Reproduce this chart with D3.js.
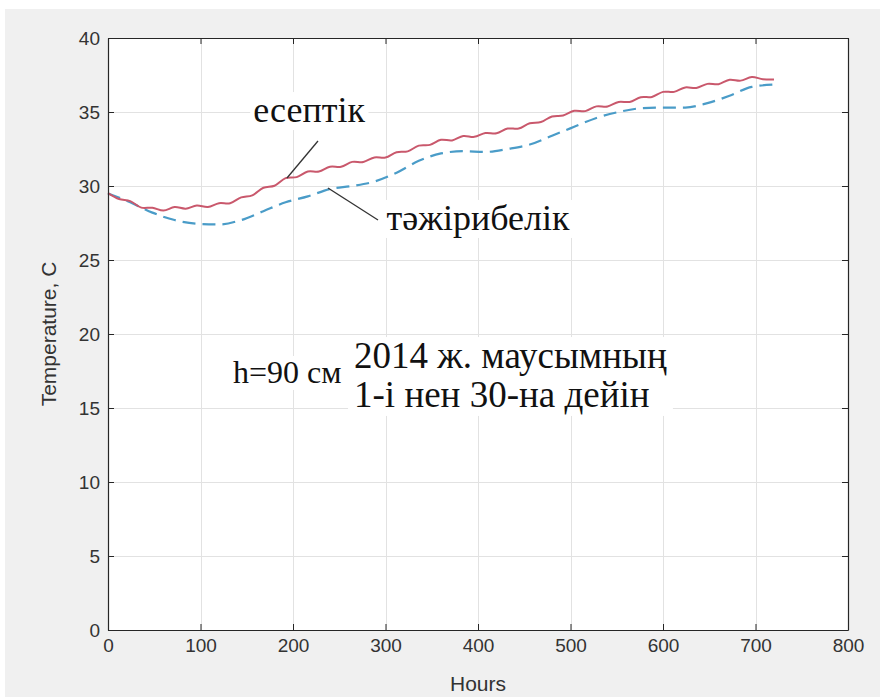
<!DOCTYPE html>
<html><head><meta charset="utf-8">
<script src="https://cdn.jsdelivr.net/npm/d3@7/dist/d3.min.js"></script>
<style>body{margin:0;background:#fff}</style>
</head><body>
<svg id="chart" width="885" height="700"></svg>
<script>
// ---- data ----
const calcHours = [0,12,24,36,48,60,72,84,96,108,120,132,144,156,168,180,192,204,216,228,240,252,264,276,288,300,312,324,336,348,360,372,384,396,408,420,432,444,456,468,480,492,504,516,528,540,552,564,576,588,600,612,624,636,648,660,672,684,696,708,720];
const calcTemp = [29.52,29.12,28.98,28.54,28.53,28.34,28.58,28.47,28.68,28.58,28.84,28.84,29.23,29.37,29.88,30.02,30.53,30.60,30.98,30.98,31.30,31.30,31.63,31.62,31.93,31.92,32.28,32.34,32.73,32.78,33.12,33.08,33.38,33.32,33.58,33.56,33.88,33.88,34.24,34.32,34.70,34.76,35.08,35.06,35.38,35.37,35.68,35.68,36.00,36.02,36.36,36.36,36.66,36.62,36.90,36.88,37.18,37.12,37.36,37.22,37.20];
const expHours = [0,24,48,72,96,120,144,168,192,216,240,264,288,312,336,360,384,408,432,456,480,504,528,552,576,600,624,648,672,696,720];
const expTemp = [29.5,28.9,28.2,27.7,27.45,27.4,27.7,28.3,28.9,29.3,29.8,30.0,30.3,30.9,31.7,32.2,32.35,32.3,32.5,32.8,33.4,34.0,34.6,35.0,35.25,35.3,35.3,35.6,36.1,36.7,36.85];
const xTicks = [0,100,200,300,400,500,600,700,800];
const yTicks = [0,5,10,15,20,25,30,35,40];
const xLabel = "Hours";
const yLabel = "Temperature, C";
const calcName = "есептік";
const expName = "тәжірибелік";
const heightNote = "h=90 см";
const periodLines = ["2014 ж. маусымның", "1-і нен 30-на дейін"];

// annotation anchors in data units [hours, temperature]
const calcLabelAt = [157, 34.32];
const calcLeader = [[193.5, 30.54],[227, 33.04]];
const expLabelAt = [301, 27.03];
const expLeader = [[237.8, 29.86],[291.9, 27.70]];
const heightAt = [135.1, 16.69];
const periodAt = [[266, 17.70],[266, 15.07]];

// ---- layout ----
const svg = d3.select("#chart");
const W = 885, H = 700;
const m = {left:108, top:38, right:37, bottom:70};
const pw = W - m.left - m.right, ph = H - m.top - m.bottom;

svg.append("rect").attr("x",5).attr("y",9).attr("width",875).attr("height",688).attr("fill","#f0f0f0");

const x = d3.scaleLinear().domain([0,800]).range([m.left, m.left+pw]);
const y = d3.scaleLinear().domain([0,40]).range([m.top+ph, m.top]);

svg.append("rect").attr("x",m.left).attr("y",m.top).attr("width",pw).attr("height",ph).attr("fill","#fff");

// grid
const grid = svg.append("g").attr("stroke","#e2e2e2").attr("stroke-width",1);
grid.selectAll("line.gx").data(xTicks.slice(1,-1)).join("line")
  .attr("x1",d=>Math.round(x(d))+0.5).attr("x2",d=>Math.round(x(d))+0.5)
  .attr("y1",m.top).attr("y2",m.top+ph);
grid.selectAll("line.gy").data(yTicks.slice(1,-1)).join("line")
  .attr("y1",d=>Math.round(y(d))+0.5).attr("y2",d=>Math.round(y(d))+0.5)
  .attr("x1",m.left).attr("x2",m.left+pw);

// lines
const calcData = calcHours.map((h,i)=>[h,calcTemp[i]]);
const expData = expHours.map((h,i)=>[h,expTemp[i]]);
const lineCalc = d3.line().x(d=>x(d[0])).y(d=>y(d[1])).curve(d3.curveCatmullRom);
const lineExp = d3.line().x(d=>x(d[0])).y(d=>y(d[1])).curve(d3.curveMonotoneX);

svg.append("path").datum(expData).attr("d",lineExp).attr("fill","none")
  .attr("stroke","#4a9cc8").attr("stroke-width",2.2).attr("stroke-dasharray","13,7");
svg.append("path").datum(calcData).attr("d",lineCalc).attr("fill","none")
  .attr("stroke","#c9586c").attr("stroke-width",2);

// leaders
const leader = d3.line().x(d=>x(d[0])).y(d=>y(d[1]));
[calcLeader, expLeader].forEach(L=>{
  svg.append("path").attr("d",leader(L)).attr("stroke","#333").attr("stroke-width",1.3).attr("fill","none");
});

// annotations with white boxes
const serif = "'Liberation Serif','Times New Roman',serif";
function note(txt, at, size, pad){
  const g = svg.append("g");
  const r = g.append("rect").attr("fill","#fff");
  const t = g.append("text").attr("x",x(at[0])).attr("y",y(at[1]))
    .attr("font-family",serif).attr("font-size",size).attr("fill","#111").text(txt);
  const b = t.node().getBBox();
  r.attr("x",b.x-pad).attr("y",b.y+2).attr("width",b.width+2*pad).attr("height",b.height-2);
  return g;
}
note(calcName, calcLabelAt, 36, 3);
note(expName, expLabelAt, 36, 3);
note(heightNote, heightAt, 32, 3);
// period box (two lines)
{
  const g = svg.append("g");
  const r = g.append("rect").attr("fill","#fff");
  const ts = periodLines.map((s,i)=>g.append("text").attr("x",x(periodAt[i][0])).attr("y",y(periodAt[i][1]))
    .attr("font-family",serif).attr("font-size",37).attr("fill","#111").text(s));
  const b0 = ts[0].node().getBBox(), b1 = ts[1].node().getBBox();
  const x0 = Math.min(b0.x,b1.x)-6, x1 = Math.max(b0.x+b0.width,b1.x+b1.width)+6;
  r.attr("x",x0).attr("y",b0.y+2).attr("width",x1-x0).attr("height",b1.y+b1.height-b0.y-1);
}

// axes
const tickFont = "'Liberation Sans',Arial,sans-serif";
const axB = svg.append("g").attr("transform",`translate(0,${m.top+ph})`)
  .call(d3.axisBottom(x).tickValues(xTicks).tickSizeInner(-6).tickSizeOuter(0).tickPadding(9));
const axT = svg.append("g").attr("transform",`translate(0,${m.top})`)
  .call(d3.axisTop(x).tickValues(xTicks).tickSizeInner(-6).tickSizeOuter(0).tickFormat(""));
const axL = svg.append("g").attr("transform",`translate(${m.left},0)`)
  .call(d3.axisLeft(y).tickValues(yTicks).tickSizeInner(-6).tickSizeOuter(0).tickPadding(8));
const axR = svg.append("g").attr("transform",`translate(${m.left+pw},0)`)
  .call(d3.axisRight(y).tickValues(yTicks).tickSizeInner(-6).tickSizeOuter(0).tickFormat(""));
[axB,axT,axL,axR].forEach(a=>{
  a.selectAll("path.domain").attr("stroke","#262626").attr("stroke-width",1.2);
  a.selectAll(".tick line").attr("stroke","#262626");
  a.selectAll("text").attr("font-family",tickFont).attr("font-size",19).attr("fill","#333");
});
axL.selectAll("text").attr("dy","0.35em");

svg.append("text").attr("x",x(400)).attr("y",691).attr("text-anchor","middle")
  .attr("font-family",tickFont).attr("font-size",21).attr("fill","#333").text(xLabel);
svg.append("text").attr("transform",`translate(56,${y(20)}) rotate(-90)`).attr("text-anchor","middle")
  .attr("font-family",tickFont).attr("font-size",21).attr("fill","#333").text(yLabel);
</script>
</body></html>
